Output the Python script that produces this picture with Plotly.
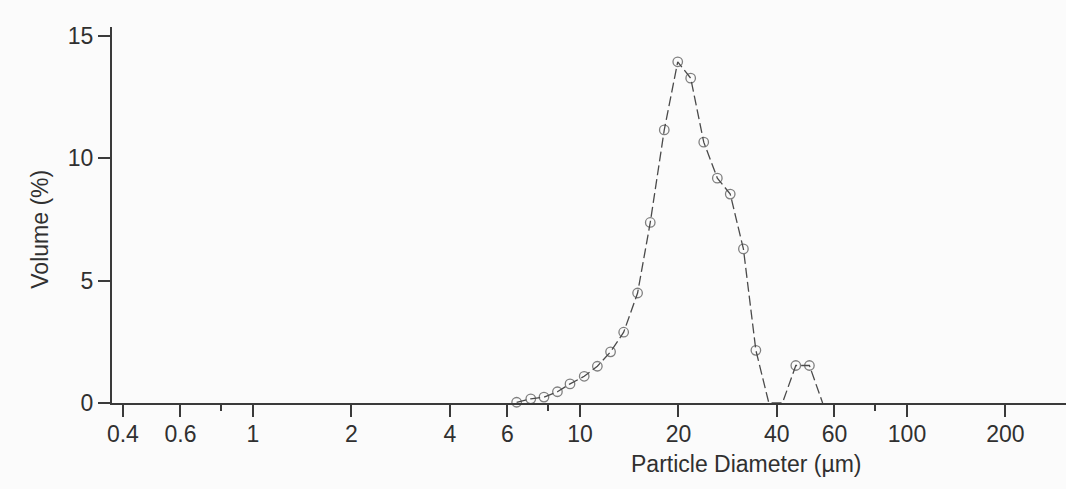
import plotly.graph_objects as go

# Particle diameter bins (µm) and volume (%)
diameter = [6.40, 7.07, 7.76, 8.53, 9.32, 10.3, 11.3, 12.4, 13.6, 15.0, 16.4, 18.1,
            19.9, 21.8, 23.9, 26.3, 28.8, 31.6, 34.5, 37.8, 41.6, 45.7, 50.3, 55.2]
volume = [0.03, 0.17, 0.24, 0.46, 0.78, 1.09, 1.50, 2.09, 2.89, 4.49, 7.37, 11.15,
          13.93, 13.26, 10.65, 9.18, 8.53, 6.29, 2.15, 0.0, 0.0, 1.53, 1.53, 0.0]

x_tick_vals = [0.4, 0.6, 1, 2, 4, 6, 10, 20, 40, 60, 100, 200]
x_tick_text = ["0.4", "0.6", "1", "2", "4", "6", "10", "20", "40", "60", "100", "200"]
x_minor_vals = [0.8, 8, 80]
y_tick_vals = [0, 5, 10, 15]

x_title = "Particle Diameter (µm)"
y_title = "Volume (%)"

axis_col = "#3a3a3a"
text_col = "#303030"
font_family = "Liberation Sans, Arial, sans-serif"

marker_sizes = [0 if v == 0 else 9.5 for v in volume]

fig = go.Figure()
fig.add_trace(go.Scatter(
    x=diameter, y=volume, mode="lines+markers",
    line=dict(color="#4a4a4a", width=1.3, dash="10px,4px"),
    marker=dict(symbol="circle-open", size=marker_sizes,
                color="#4a4a4a", line=dict(width=1.3, color="#4a4a4a")),
    cliponaxis=False, showlegend=False,
))

fig.update_layout(
    width=1066, height=489,
    margin=dict(l=112, r=0, t=27, b=85.5),
    paper_bgcolor="#fbfbfb", plot_bgcolor="#fbfbfb",
    font=dict(family=font_family, size=23, color=text_col),
    xaxis=dict(
        type="log", range=[-0.4312, 2.4862],
        tickmode="array", tickvals=x_tick_vals, ticktext=x_tick_text,
        ticks="outside", ticklen=12, tickwidth=2, tickcolor=axis_col,
        ticklabelstandoff=-3,
        showline=True, linecolor=axis_col, linewidth=2,
        showgrid=False, zeroline=False,
        minor=dict(tickmode="array", tickvals=x_minor_vals, ticks="outside",
                   ticklen=6, tickwidth=2, tickcolor=axis_col, showgrid=False),
        tickfont=dict(size=23, color=text_col),
    ),
    yaxis=dict(
        range=[0, 15.35],
        tickmode="array", tickvals=y_tick_vals,
        ticks="outside", ticklen=12, tickwidth=2, tickcolor=axis_col,
        showline=True, linecolor=axis_col, linewidth=2,
        showgrid=False, zeroline=False,
        tickfont=dict(size=23, color=text_col),
    ),
    annotations=[
        dict(text=x_title, xref="paper", yref="paper", x=0.665, y=-0.163,
             xanchor="center", yanchor="middle", showarrow=False,
             font=dict(size=23, color=text_col)),
        dict(text=y_title, xref="paper", yref="paper", x=-0.0755, y=0.4635,
             xanchor="center", yanchor="middle", showarrow=False, textangle=-90,
             font=dict(size=23, color=text_col)),
    ],
)

fig.write_html("out.html")
